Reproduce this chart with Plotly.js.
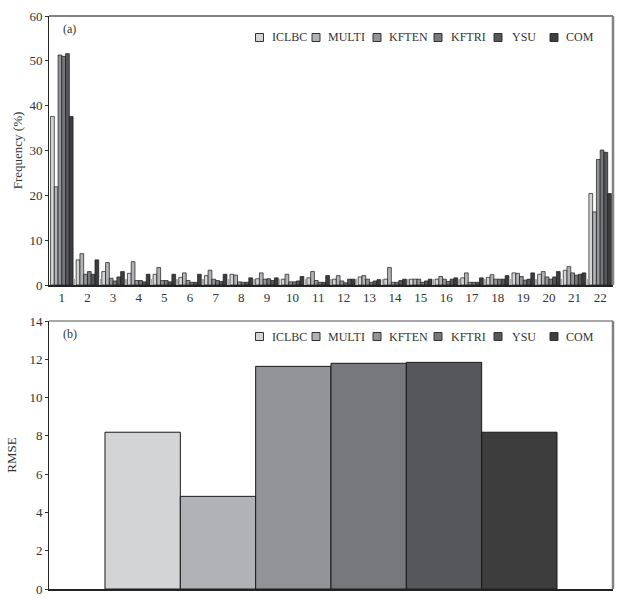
<!DOCTYPE html>
<html>
<head>
<meta charset="utf-8">
<script src="https://cdn.plot.ly/plotly-3.0.1.min.js"></script>
<style>html,body{margin:0;padding:0;background:#fff;}#chart{width:642px;height:605px;}</style>
</head>
<body>
<div id="chart"></div>
<script>
// ---- data ----
var categories = ['1','2','3','4','5','6','7','8','9','10','11','12','13','14','15','16','17','18','19','20','21','22'];
var seriesNames = ['ICLBC','MULTI','KFTEN','KFTRI','YSU','COM'];
var iclbc = [37.6,5.6,3.0,2.6,2.4,1.7,2.1,2.4,1.4,1.3,1.6,1.3,1.8,1.3,1.3,1.3,1.6,1.7,2.7,2.4,3.3,20.4];
var multi = [21.9,7.0,5.0,5.2,3.9,2.7,3.3,2.2,2.7,2.4,3.0,2.1,2.1,3.9,1.3,1.9,2.7,2.3,2.6,3.0,4.1,16.3];
var kften = [51.3,2.4,1.5,1.0,1.0,1.0,1.3,0.7,1.3,0.7,1.0,0.9,1.3,0.6,1.3,1.3,0.6,1.3,1.9,1.8,2.7,28.0];
var kftri = [51.0,3.0,0.9,1.0,1.0,0.6,1.0,0.6,1.4,0.7,0.6,0.5,0.6,0.6,0.6,0.8,0.6,1.3,1.1,1.3,2.2,30.1];
var ysu   = [51.6,2.4,1.8,0.7,0.7,0.6,0.8,0.6,1.0,0.9,0.6,1.3,0.9,1.0,0.9,1.3,0.6,1.3,1.3,1.8,2.4,29.6];
var com   = [37.6,5.6,3.0,2.4,2.4,2.4,2.4,1.6,1.6,1.9,2.1,1.3,1.2,1.3,1.3,1.6,1.6,2.1,2.7,3.0,2.7,20.4];
var rmse  = [8.19,4.84,11.63,11.79,11.84,8.19];

// ---- styles ----
var colors = ['#d3d4d6','#b1b2b5','#939497','#77787b','#56575a','#3d3d3e'];
var FONT = '"Liberation Serif", "DejaVu Serif", serif';
var freqSeries = [iclbc, multi, kften, kftri, ysu, com];

var traces = [];
freqSeries.forEach(function(vals, i){
  traces.push({type:'bar', name: seriesNames[i], x: categories, y: vals, xaxis:'x', yaxis:'y',
    marker:{color: colors[i], line:{color:'#1a1a1a', width:0.7}}, showlegend:false, hoverinfo:'skip'});
});
rmse.forEach(function(v, i){
  traces.push({type:'bar', name: seriesNames[i], x: ['RMSE'], y: [v], xaxis:'x2', yaxis:'y2',
    marker:{color: colors[i], line:{color:'#1a1a1a', width:1}}, showlegend:false, hoverinfo:'skip'});
});

// plot box in px
var L = 49, R = 613, T = 16, B = 589, W = 642, H = 605;
function px(xp){ return (xp - L) / (R - L); }
function py(yp){ return (B - yp) / (B - T); }

var shapes = [], annotations = [];
// frame: top & right borders
[['y domain', 'rgb(130,130,130)', 2], ['y2 domain', 'rgb(80,80,80)', 1.2]].forEach(function(f){
  shapes.push({type:'line', xref:'paper', yref:f[0], x0:0, x1:1, y0:1, y1:1, line:{color:f[1], width:f[2]}});
  shapes.push({type:'line', xref:'paper', yref:f[0], x0:1, x1:1, y0:0, y1:1, line:{color:'rgb(130,130,130)', width:2.5}});
});

// manual legends (one per panel)
var sqX = [259.5, 316, 377, 438, 498, 554];
var txX = [270, 326, 387, 449, 510, 564];
[37.5, 336.5].forEach(function(yc){
  seriesNames.forEach(function(n, i){
    shapes.push({type:'rect', xref:'paper', yref:'paper',
      x0: px(sqX[i]-4), x1: px(sqX[i]+4), y0: py(yc+4), y1: py(yc-4),
      fillcolor: colors[i], line:{color:'#333', width:1}});
    annotations.push({xref:'paper', yref:'paper', x: px(txX[i]), y: py(yc), xanchor:'left', yanchor:'middle',
      text: n, showarrow:false, font:{family:FONT, size:12, color:'#333'}});
  });
});
annotations.push({xref:'paper', yref:'paper', x: px(61), y: py(29), xanchor:'left', yanchor:'middle',
  text:'(a)', showarrow:false, font:{family:FONT, size:12, color:'#333'}});
annotations.push({xref:'paper', yref:'paper', x: px(61), y: py(334), xanchor:'left', yanchor:'middle',
  text:'(b)', showarrow:false, font:{family:FONT, size:12, color:'#333'}});

var topDom = [py(285), 1];
var botDom = [0, py(321)];

var layout = {
  width: W, height: H,
  margin: {l: L, r: W - R, t: T, b: H - B},
  paper_bgcolor:'#fff', plot_bgcolor:'#fff',
  font:{family: FONT, size:12, color:'#333'},
  barmode:'group', bargap:0.12, bargroupgap:0,
  showlegend:false,
  xaxis: {domain:[0,1], anchor:'y', type:'category', range:[-0.5,21.5],
    showline:true, linecolor:'#222', linewidth:1.5, showgrid:false, zeroline:false,
    ticks:'inside', tickson:'boundaries', ticklen:6, tickcolor:'#aaa', tickwidth:1.5,
    tickfont:{family:FONT, size:13, color:'#333'}, fixedrange:true},
  yaxis: {domain: topDom, anchor:'x', range:[0,60], dtick:10, tick0:0,
    showline:true, linecolor:'#222', linewidth:1, showgrid:false, zeroline:false,
    ticks:'outside', ticklen:3, tickcolor:'#333',
    tickfont:{family:FONT, size:13, color:'#333'},
    title:{text:'Frequency (%)', font:{family:FONT, size:13, color:'#333'}, standoff:3}},
  xaxis2: {domain:[0,1], anchor:'y2', type:'category', range:[-0.549, 0.549],
    showline:true, linecolor:'#222', linewidth:2, showgrid:false, zeroline:false,
    showticklabels:false, ticks:''},
  yaxis2: {domain: botDom, anchor:'x2', range:[0,14], dtick:2, tick0:0,
    showline:true, linecolor:'#222', linewidth:1, showgrid:false, zeroline:false,
    ticks:'outside', ticklen:3, tickcolor:'#333',
    tickfont:{family:FONT, size:13, color:'#333'},
    title:{text:'RMSE', font:{family:FONT, size:13, color:'#333'}, standoff:9}},
  shapes: shapes,
  annotations: annotations
};

Plotly.newPlot('chart', traces, layout, {displayModeBar:false, staticPlot:true});
</script>
</body>
</html>
